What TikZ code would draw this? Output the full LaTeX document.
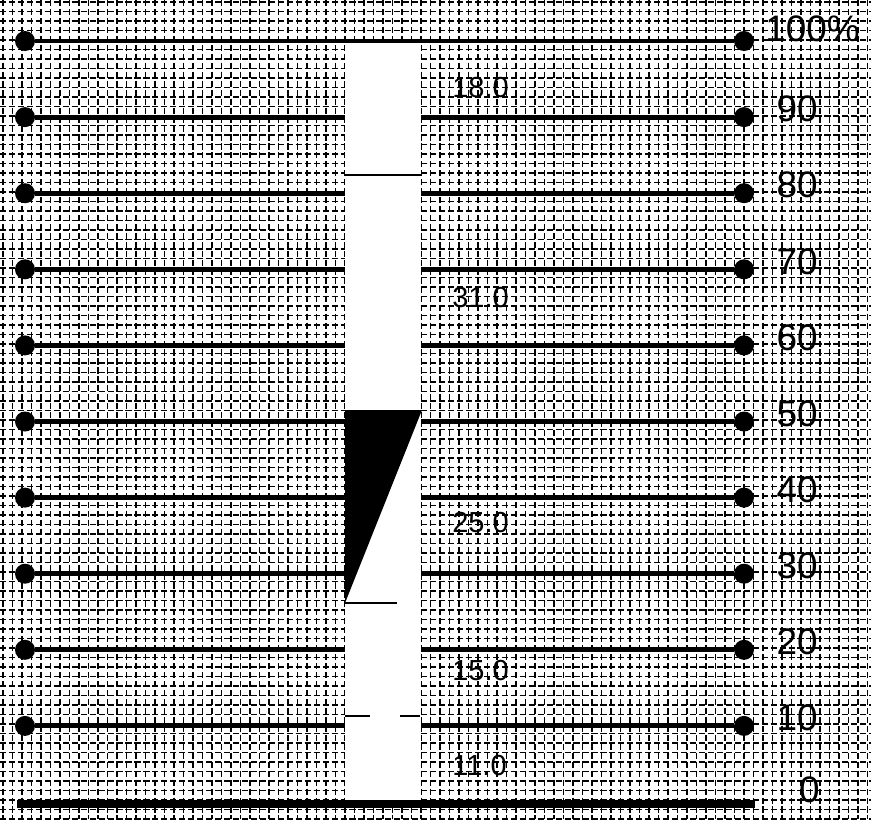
\documentclass[tikz,border=0pt]{standalone}
\usepackage{fontspec}
\setmainfont{Liberation Sans}
\usetikzlibrary{positioning}

\begin{document}
\begin{tikzpicture}[
  x=0.02cm, y=-0.02cm,
  dot/.style={circle, fill=black, inner sep=0pt, minimum size=0.4cm},
  bar/.style={line width=2.8pt, draw=black},
  gridline/.style={line width=0.8pt, draw=black, dash pattern=on 3.5pt off 1.6pt},
  pct/.style={font=\fontsize{21}{25}\selectfont, inner sep=0pt},
  val/.style={font=\fontsize{16.5}{20}\selectfont, inner sep=0pt, anchor=west},
  sep/.style={line width=0.8pt, draw=black}
]
\useasboundingbox (0,0) rectangle (871,819);
\fill[white] (0,0) rectangle (871,819);

% graph paper
\foreach \i in {0,...,91} \draw[gridline] (3+\i*9.5,0) -- (3+\i*9.5,819);
\foreach \i in {0,...,86} \draw[gridline] (0,2+\i*9.5) -- (871,2+\i*9.5);

% the column
\fill[white] (345,42) rectangle (421,800);

% scale lines with dots
\foreach \k in {0,...,9} {
  \pgfmathsetmacro\yy{41+76.1*\k}
  \node[dot] (L\k) at (25,\yy) {};
  \node[dot] (R\k) at (744,\yy) {};
  \coordinate (A\k) at (345,\yy);
  \coordinate (B\k) at (421,\yy);
}
\draw[bar] (L0) -- (R0);
\foreach \k in {1,...,9} {
  \draw[bar] (L\k) -- (A\k);
  \draw[bar] (B\k) -- (R\k);
}
\coordinate (base-l) at (17,804);
\coordinate (base-r) at (755,804);
\draw[line width=4.5pt] (base-l) -- (base-r);

% divisions of the column
\draw[sep] (345,175) -- (421,175);
\draw[sep] (345,603) -- (397,603);
\draw[sep] (345,716) -- (370,716);
\draw[sep] (400,716) -- (420,716);
\fill[black] (345,410) -- (422,410) -- (345,603) -- cycle;

% values
\node[val] (v18) at (452,88) {18.0};
\node[val] (v31) at (452,298) {31.0};
\node[val] (v25) at (452,523) {25.0};
\node[val] (v15) at (452,671) {15.0};
\node[val] (v11) at (452,766) {11.0};

% percent scale
\node[pct, anchor=west] (P0) at (765,29) {100\%};
\foreach \k/\t in {1/90,2/80,3/70,4/60,5/50,6/40,7/30,8/20,9/10} {
  \pgfmathsetmacro\yy{33+76.1*\k}
  \node[pct, anchor=east] (P\k) at (818,\yy) {\t};
}
\node[pct, anchor=east] (P10) at (820,790) {0};
\end{tikzpicture}
\end{document}
